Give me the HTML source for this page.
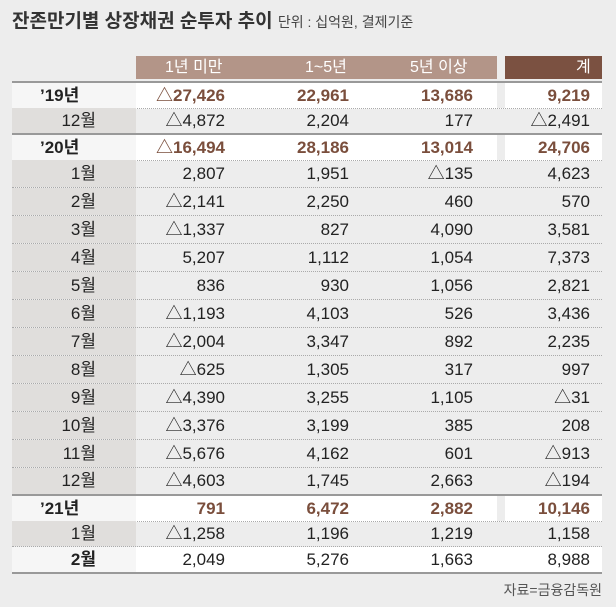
<!DOCTYPE html>
<html><head><meta charset="utf-8"><style>
body{margin:0;width:616px;height:607px;background:#ededed;font-family:"Liberation Sans","Noto Sans CJK KR",sans-serif;position:relative;overflow:hidden;color:#222}
.t{position:absolute;left:12px;top:6px;font-size:19px;font-weight:bold;color:#333;white-space:nowrap}
.t span{font-size:14px;font-weight:normal;color:#444}
.hd{position:absolute;top:56px;height:23px;color:#fff;font-size:16px;line-height:23px}
.r{position:absolute;left:12px;width:590px;font-size:17px;border-bottom:1px dotted #aaa}
.r span{position:absolute;top:0;white-space:nowrap}
.lab{position:absolute;left:0;top:0;bottom:0;width:124px;background:#e0dedc}
.r .l{right:506px}
.r .y{left:28px;font-weight:bold}
.r .a{right:377px}.r .b{right:253px}.r .c{right:129px}.r .d{right:12px}
.w{background:#fff}
.w .lab{background:#f6f6f6}
.w .gap{position:absolute;left:485px;width:8px;top:0;bottom:0;background:#ededed}
.br span.a,.br span.b,.br span.c,.br span.d{color:#7a4e3c;font-weight:bold}
</style></head><body>
<div class="t">잔존만기별 상장채권 순투자 추이 <span>단위 : 십억원, 결제기준</span></div>
<div class="hd" style="left:136px;width:361px;background:#b39588"></div>
<div class="hd" style="left:505px;width:97px;background:#7b5141"></div>
<div class="hd" style="left:165px">1년 미만</div>
<div class="hd" style="left:305px">1~5년</div>
<div class="hd" style="left:410px">5년 이상</div>
<div class="hd" style="left:576px">계</div>

<div class="r w br" style="top:81px;height:25px;line-height:25px;border-top:2px solid #999"><div class="lab"></div><div class="gap"></div><span class="y" style="color:#222">’19년</span><span class="a">△27,426</span><span class="b">22,961</span><span class="c">13,686</span><span class="d">9,219</span></div>
<div class="r" style="top:108px;height:25px;line-height:25px"><div class="lab"></div><span class="l">12월</span><span class="a">△4,872</span><span class="b">2,204</span><span class="c">177</span><span class="d">△2,491</span></div>
<div class="r w br" style="top:133px;height:25px;line-height:25px;border-top:2px solid #999"><div class="lab"></div><div class="gap"></div><span class="y" style="color:#222">’20년</span><span class="a">△16,494</span><span class="b">28,186</span><span class="c">13,014</span><span class="d">24,706</span></div>
<div class="r" style="top:160px;height:27px;line-height:27px"><div class="lab"></div><span class="l">1월</span><span class="a">2,807</span><span class="b">1,951</span><span class="c">△135</span><span class="d">4,623</span></div>
<div class="r" style="top:188px;height:27px;line-height:27px"><div class="lab"></div><span class="l">2월</span><span class="a">△2,141</span><span class="b">2,250</span><span class="c">460</span><span class="d">570</span></div>
<div class="r" style="top:216px;height:27px;line-height:27px"><div class="lab"></div><span class="l">3월</span><span class="a">△1,337</span><span class="b">827</span><span class="c">4,090</span><span class="d">3,581</span></div>
<div class="r" style="top:244px;height:27px;line-height:27px"><div class="lab"></div><span class="l">4월</span><span class="a">5,207</span><span class="b">1,112</span><span class="c">1,054</span><span class="d">7,373</span></div>
<div class="r" style="top:272px;height:27px;line-height:27px"><div class="lab"></div><span class="l">5월</span><span class="a">836</span><span class="b">930</span><span class="c">1,056</span><span class="d">2,821</span></div>
<div class="r" style="top:300px;height:27px;line-height:27px"><div class="lab"></div><span class="l">6월</span><span class="a">△1,193</span><span class="b">4,103</span><span class="c">526</span><span class="d">3,436</span></div>
<div class="r" style="top:328px;height:27px;line-height:27px"><div class="lab"></div><span class="l">7월</span><span class="a">△2,004</span><span class="b">3,347</span><span class="c">892</span><span class="d">2,235</span></div>
<div class="r" style="top:356px;height:27px;line-height:27px"><div class="lab"></div><span class="l">8월</span><span class="a">△625</span><span class="b">1,305</span><span class="c">317</span><span class="d">997</span></div>
<div class="r" style="top:384px;height:27px;line-height:27px"><div class="lab"></div><span class="l">9월</span><span class="a">△4,390</span><span class="b">3,255</span><span class="c">1,105</span><span class="d">△31</span></div>
<div class="r" style="top:412px;height:27px;line-height:27px"><div class="lab"></div><span class="l">10월</span><span class="a">△3,376</span><span class="b">3,199</span><span class="c">385</span><span class="d">208</span></div>
<div class="r" style="top:440px;height:27px;line-height:27px"><div class="lab"></div><span class="l">11월</span><span class="a">△5,676</span><span class="b">4,162</span><span class="c">601</span><span class="d">△913</span></div>
<div class="r" style="top:468px;height:26px;line-height:26px;border-bottom:none"><div class="lab"></div><span class="l">12월</span><span class="a">△4,603</span><span class="b">1,745</span><span class="c">2,663</span><span class="d">△194</span></div>
<div class="r w br" style="top:494px;height:25px;line-height:25px;border-top:2px solid #999"><div class="lab"></div><div class="gap"></div><span class="y" style="color:#222">’21년</span><span class="a">791</span><span class="b">6,472</span><span class="c">2,882</span><span class="d">10,146</span></div>
<div class="r" style="top:521px;height:25px;line-height:25px"><div class="lab"></div><span class="l">1월</span><span class="a">△1,258</span><span class="b">1,196</span><span class="c">1,219</span><span class="d">1,158</span></div>
<div class="r w" style="top:547px;height:25px;line-height:25px;border-bottom:2px solid #999"><div class="lab"></div><span class="l" style="font-weight:bold">2월</span><span class="a">2,049</span><span class="b">5,276</span><span class="c">1,663</span><span class="d">8,988</span></div>
<div style="position:absolute;right:14px;top:580px;font-size:14px;color:#555">자료=금융감독원</div>
</body></html>
